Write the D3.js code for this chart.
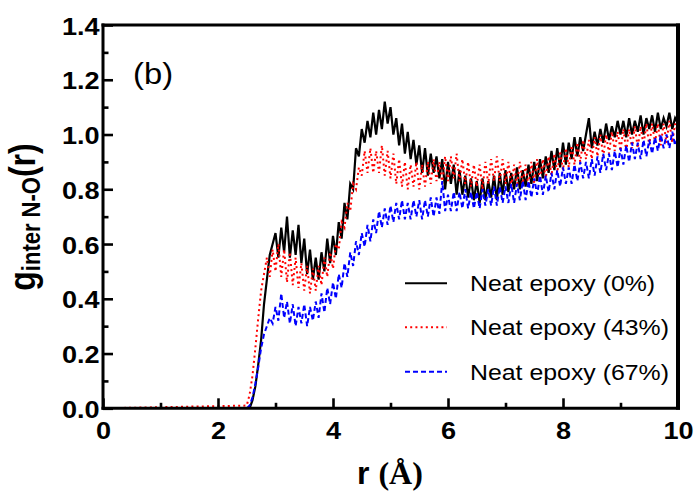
<!DOCTYPE html>
<html><head><meta charset="utf-8">
<script src="https://cdn.jsdelivr.net/npm/d3@7"></script>
<style>body{margin:0;background:#fff}svg{display:block}</style>
</head><body><svg id="c" width="699" height="494"></svg>
<script>
// ---------------- data ----------------
const seriesNames = ["Neat epoxy (0%)", "Neat epoxy (43%)", "Neat epoxy (67%)"];
const seriesColors = ["#000000", "#ff0000", "#0000ff"];
const seriesDash = [null, "2,3.2", "5,3"];
const xTicks = [0, 2, 4, 6, 8, 10];
const xMinor = [1, 3, 5, 7, 9];
const yTicks = [0, 0.2, 0.4, 0.6, 0.8, 1.0, 1.2, 1.4];
const yMinor = [0.1, 0.3, 0.5, 0.7, 0.9, 1.1, 1.3];
// r bins: r = 0, then 2.50 ... 10.00 in 0.05 steps
const rBins = [0].concat(d3.range(151).map(i => +(2.5 + i * 0.05).toFixed(2)));

const g0 = [0,
 0.00,0.00,0.03,0.08,0.16,0.25,0.38,0.47,0.56,0.60,
 0.64,0.55,0.66,0.57,0.70,0.55,0.65,0.56,0.67,0.53,
 0.62,0.49,0.58,0.47,0.55,0.47,0.57,0.50,0.62,0.53,
 0.63,0.56,0.68,0.62,0.75,0.69,0.82,0.80,0.95,0.92,
 1.02,0.97,1.05,0.99,1.08,1.00,1.09,1.02,1.12,1.04,
 1.10,1.00,1.06,0.96,1.04,0.93,1.01,0.91,0.98,0.89,
 0.96,0.86,0.95,0.85,0.93,0.86,0.92,0.84,0.91,0.80,
 0.90,0.82,0.89,0.78,0.87,0.78,0.85,0.77,0.84,0.76,
 0.83,0.75,0.84,0.76,0.83,0.77,0.85,0.76,0.86,0.78,
 0.87,0.79,0.86,0.80,0.88,0.80,0.87,0.81,0.89,0.82,
 0.90,0.83,0.91,0.84,0.92,0.86,0.94,0.87,0.95,0.88,
 0.97,0.89,0.97,0.91,0.99,0.92,0.99,0.94,1.00,1.06,
 0.95,1.01,0.96,1.02,0.97,1.04,0.98,1.03,0.99,1.05,
 1.00,1.05,0.99,1.06,1.00,1.05,1.01,1.07,1.00,1.06,
 1.02,1.07,1.01,1.08,1.02,1.06,1.03,1.08,1.02,1.06,
 1.04];

const g43 = [0,
 0.01,0.05,0.12,0.22,0.33,0.43,0.49,0.55,0.48,0.58,
 0.50,0.60,0.48,0.58,0.46,0.57,0.45,0.55,0.44,0.53,
 0.43,0.52,0.42,0.51,0.43,0.52,0.45,0.55,0.48,0.57,
 0.51,0.60,0.58,0.68,0.66,0.75,0.72,0.82,0.80,0.88,
 0.85,0.94,0.86,0.95,0.86,0.94,0.86,0.96,0.85,0.94,
 0.84,0.93,0.82,0.91,0.81,0.90,0.80,0.89,0.81,0.90,
 0.80,0.89,0.81,0.90,0.82,0.91,0.83,0.90,0.82,0.92,
 0.83,0.92,0.84,0.93,0.83,0.91,0.82,0.90,0.81,0.89,
 0.81,0.89,0.80,0.90,0.82,0.91,0.83,0.92,0.83,0.91,
 0.82,0.90,0.81,0.89,0.81,0.90,0.82,0.89,0.81,0.90,
 0.82,0.91,0.83,0.91,0.84,0.92,0.85,0.93,0.86,0.94,
 0.87,0.95,0.88,0.96,0.89,0.97,0.90,0.98,0.91,0.98,
 0.91,0.99,0.92,1.00,0.92,1.00,0.93,1.01,0.94,1.01,
 0.94,1.02,0.94,1.02,0.95,1.03,0.95,1.03,0.96,1.04,
 0.96,1.04,0.97,1.04,0.96,1.04,0.97,1.05,0.97,1.04,
 1.01];

const g67 = [0,
 0.00,0.01,0.04,0.09,0.15,0.22,0.27,0.30,0.33,0.31,
 0.37,0.32,0.42,0.33,0.39,0.31,0.38,0.30,0.37,0.31,
 0.38,0.30,0.37,0.32,0.39,0.33,0.42,0.35,0.44,0.38,
 0.46,0.40,0.49,0.44,0.53,0.48,0.57,0.52,0.61,0.56,
 0.64,0.59,0.67,0.61,0.69,0.64,0.72,0.66,0.73,0.67,
 0.74,0.68,0.75,0.69,0.76,0.69,0.75,0.69,0.76,0.70,
 0.76,0.69,0.76,0.70,0.77,0.70,0.77,0.71,0.83,0.72,
 0.78,0.72,0.79,0.72,0.79,0.73,0.80,0.73,0.79,0.73,
 0.79,0.73,0.80,0.74,0.80,0.74,0.81,0.74,0.81,0.75,
 0.81,0.75,0.82,0.75,0.82,0.76,0.83,0.76,0.83,0.77,
 0.84,0.78,0.85,0.78,0.85,0.79,0.86,0.80,0.87,0.81,
 0.88,0.82,0.88,0.82,0.89,0.83,0.90,0.84,0.90,0.84,
 0.91,0.85,0.92,0.86,0.93,0.87,0.93,0.87,0.94,0.88,
 0.95,0.89,0.96,0.90,0.97,0.91,0.97,0.91,0.98,0.92,
 0.98,0.93,0.99,0.94,1.00,0.95,1.00,0.95,1.01,0.96,
 0.99];

const seriesValues = [g0, g43, g67];

// ---------------- drawing ----------------
const svg = d3.select("#c");
const X0 = 103, X1 = 678, Y0 = 408.3, Y1 = 25;
const x = d3.scaleLinear().domain([0, 10]).range([X0, X1]);
const y = d3.scaleLinear().domain([0, 1.4]).range([Y0, Y1]);
const SX = 1.13; // horizontal text stretch seen in the reference

svg.append("defs").append("clipPath").attr("id", "clip")
  .append("rect").attr("x", X0).attr("y", Y1).attr("width", X1 - X0).attr("height", Y0 - Y1);

// series
const line = d3.line().x((d, i) => x(rBins[i])).y(d => y(d));
const plot = svg.append("g").attr("clip-path", "url(#clip)");
seriesValues.forEach((vals, k) => {
  plot.append("path").datum(vals)
    .attr("d", line)
    .attr("fill", "none")
    .attr("stroke", seriesColors[k])
    .attr("stroke-width", k === 0 ? 2.2 : 2)
    .attr("stroke-dasharray", seriesDash[k])
    .attr("stroke-linejoin", "miter");
});

// axes
const font = "'Liberation Sans', Arial, sans-serif";
const xAxis = svg.append("g").attr("transform", `translate(0,${Y0})`)
  .call(d3.axisBottom(x).tickValues(xTicks).tickSize(-10).tickPadding(0).tickFormat(d3.format("d")));
xAxis.selectAll("text")
  .attr("y", 14).attr("dy", "0.71em")
  .attr("transform", `scale(${SX},1)`)
  .style("font-family", font).style("font-weight", "bold").style("font-size", "24px").attr("fill", "#000");
const xAxisMinor = svg.append("g").attr("transform", `translate(0,${Y0})`)
  .call(d3.axisBottom(x).tickValues(xMinor).tickSize(-5.5).tickFormat(""));

const yAxis = svg.append("g").attr("transform", `translate(${X0},0)`)
  .call(d3.axisLeft(y).tickValues(yTicks).tickSize(-10).tickPadding(0).tickFormat(d3.format(".1f")));
yAxis.selectAll("text")
  .attr("x", -3).attr("dy", "0.38em")
  .attr("transform", `scale(${SX},1)`)
  .style("font-family", font).style("font-weight", "bold").style("font-size", "24px").attr("fill", "#000");
const yAxisMinor = svg.append("g").attr("transform", `translate(${X0},0)`)
  .call(d3.axisLeft(y).tickValues(yMinor).tickSize(-5.5).tickFormat(""));

[xAxis, xAxisMinor, yAxis, yAxisMinor].forEach(a => {
  a.select(".domain").remove();
  a.selectAll(".tick line").attr("stroke", "#000").attr("stroke-width", 2.6);
});

// frame
const frame = svg.append("g").attr("stroke", "#000").attr("fill", "none");
frame.append("line").attr("x1", X0).attr("x2", X0).attr("y1", Y1 - 1.5).attr("y2", Y0 + 1.5).attr("stroke-width", 3);
frame.append("line").attr("x1", X0 - 1.5).attr("x2", X1 + 2).attr("y1", Y0).attr("y2", Y0).attr("stroke-width", 3);
frame.append("line").attr("x1", X0 - 1.5).attr("x2", X1 + 2).attr("y1", Y1).attr("y2", Y1).attr("stroke-width", 3);
frame.append("line").attr("x1", X1).attr("x2", X1).attr("y1", Y1 - 1.5).attr("y2", Y0 + 1.5).attr("stroke-width", 4);

// panel label
svg.append("text").attr("transform", `translate(133,84) scale(${SX},1)`)
  .style("font-family", font).style("font-size", "29px").attr("fill", "#000").text("(b)");

// legend
const leg = svg.append("g");
const legY = [283.3, 327.3, 371.7];
seriesNames.forEach((name, k) => {
  leg.append("line").attr("x1", 405).attr("x2", 447).attr("y1", legY[k]).attr("y2", legY[k])
    .attr("stroke", seriesColors[k]).attr("stroke-width", 2).attr("stroke-dasharray", seriesDash[k]);
  leg.append("text").attr("transform", `translate(470,${legY[k] + 8}) scale(${SX},1)`)
    .style("font-family", font).style("font-size", "22px").attr("fill", "#000").text(name);
});

// x title
const xt = svg.append("text").attr("x", 390).attr("y", 484).attr("text-anchor", "middle")
  .style("font-weight", "bold").style("font-size", "32px").attr("fill", "#000");
xt.append("tspan").style("font-family", font).text("r ");
xt.append("tspan").style("font-family", "'Liberation Serif', 'Times New Roman', serif").text("(Å)");

// y title
const yt = svg.append("text")
  .attr("transform", `translate(35,217) rotate(-90) scale(1,${SX})`)
  .attr("text-anchor", "middle").style("font-family", font).style("font-weight", "bold").attr("fill", "#000");
yt.append("tspan").style("font-size", "32px").text("g");
yt.append("tspan").style("font-size", "22px").attr("dy", 4).text("inter N-O");
yt.append("tspan").style("font-size", "32px").attr("dy", -4).text("(r)");
</script></body></html>
